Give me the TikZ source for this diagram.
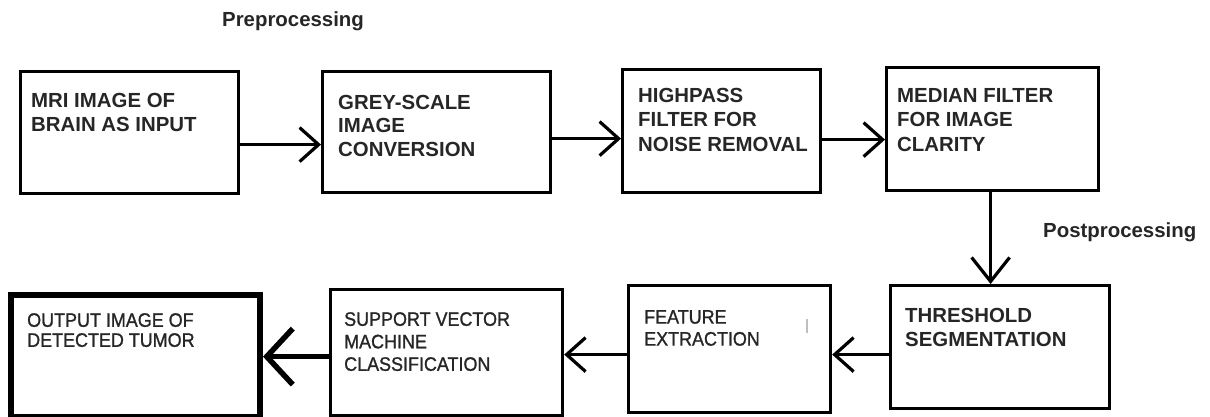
\documentclass[tikz,border=0pt]{standalone}
\usepackage{fontspec}
\setmainfont{Liberation Sans}
\newfontfamily\narrowsans[FakeStretch=0.92,FakeBold=1.2]{Liberation Sans}
\usetikzlibrary{arrows.meta}
\begin{document}
\begin{tikzpicture}[x=1pt,y=-1pt,
  stage/.style={draw=black, line width=3.2pt, rectangle, inner sep=0pt, anchor=north west},
  finalstage/.style={stage, line width=6pt},
  heavy/.style={font=\fontsize{20.4}{24}\selectfont\bfseries},
  light/.style={font=\narrowsans\fontsize{19.5}{22}\selectfont},
  txt/.style={anchor=north west, inner sep=0pt, align=left, text=black!85},
  caption/.style={anchor=base west, inner sep=0pt, text=black!85, font=\fontsize{20.4}{24}\selectfont\bfseries},
  flow/.style={line width=3.2pt, -{Straight Barb[length=19pt, width=34pt, line width=3.2pt]}},
  downflow/.style={line width=3.2pt, -{Straight Barb[length=24pt, width=38pt, line width=3.2pt]}},
  bigflow/.style={line width=5.5pt, -{Straight Barb[length=26pt, width=56pt, line width=5.5pt]}}
]
\useasboundingbox (0,0) rectangle (1210,417);

% section captions
\node[caption] (pre) at (222,27) {Preprocessing};
\node[caption] (post) at (1043,237) {Postprocessing};

% preprocessing stages (top row)
\node[stage, minimum width=218pt, minimum height=122pt] (b1) at (19,70) {};
\node[stage, minimum width=228pt, minimum height=121pt] (b2) at (321,70) {};
\node[stage, minimum width=198pt, minimum height=123pt] (b3) at (621,68) {};
\node[stage, minimum width=212pt, minimum height=123pt] (b4) at (885,66) {};

% postprocessing stages (bottom row)
\node[stage, minimum width=219pt, minimum height=123pt] (b5) at (889,284) {};
\node[stage, minimum width=202pt, minimum height=127pt] (b6) at (627,284) {};
\node[stage, minimum width=232pt, minimum height=126pt] (b7) at (329,288) {};
\node[finalstage, minimum width=249pt, minimum height=122pt] (b8) at (8,292) {};

% stage texts
\node[txt, heavy] (t1) at (31,93) {MRI IMAGE OF\\BRAIN AS INPUT};
\node[txt, heavy, font=\fontsize{20.4}{23.5}\selectfont\bfseries] (t2) at (338,95) {GREY-SCALE\\IMAGE\\CONVERSION};
\node[txt, heavy, font=\fontsize{20.4}{24.5}\selectfont\bfseries] (t3) at (638,88) {HIGHPASS\\FILTER FOR\\NOISE REMOVAL};
\node[txt, heavy, font=\fontsize{20.4}{24.5}\selectfont\bfseries] (t4) at (897,88) {MEDIAN FILTER\\FOR IMAGE\\CLARITY};
\node[txt, heavy] (t5) at (905,308) {THRESHOLD\\SEGMENTATION};
\node[txt, light] (t6) at (644,310) {FEATURE\\EXTRACTION};
\node[txt, light, font=\narrowsans\fontsize{19.5}{22.5}\selectfont] (t7) at (344,312) {SUPPORT VECTOR\\MACHINE\\CLASSIFICATION};
\node[txt, light, font=\narrowsans\fontsize{19.5}{20}\selectfont] (t8) at (27,313) {OUTPUT IMAGE OF\\DETECTED TUMOR};

% faint stray mark inside the feature box
\draw[black!25, line width=1.6pt] ([xshift=-25pt,yshift=-35pt]b6.north east) -- ++(0,14);

% connectors
\draw[flow] ([yshift=-12pt]b1.east) -- ([yshift=-12pt]b1.east -| b2.west);
\draw[flow] ([yshift=-6.5pt]b2.east) -- ([yshift=-6.5pt]b2.east -| b3.west);
\draw[flow] ([yshift=-8.5pt]b3.east) -- ([yshift=-8.5pt]b3.east -| b4.west);
\draw[downflow] ([xshift=-2pt]b4.south) -- ([xshift=-2pt]b4.south |- b5.north);
\draw[flow] ([yshift=-7.5pt]b5.west) -- ([yshift=-7.5pt]b5.west -| b6.east);
\draw[flow] ([yshift=-5.5pt]b6.west) -- ([yshift=-5.5pt]b6.west -| b7.east);
\draw[bigflow] ([yshift=-4pt]b7.west) -- ([yshift=-4pt]b7.west -| b8.east);
\end{tikzpicture}
\end{document}
